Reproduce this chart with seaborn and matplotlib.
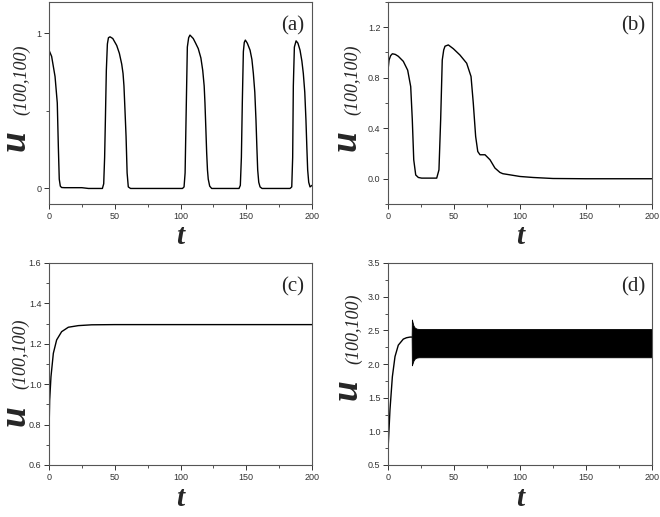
import matplotlib
matplotlib.use("Agg")
import matplotlib.pyplot as plt
from matplotlib.ticker import MultipleLocator, FormatStrFormatter
import seaborn as sns
import pandas as pd

# panel (a): periodic pulses
a_t = [0, 2, 4.6, 6.3, 7.1, 7.8, 8.6, 9.6, 12, 25, 30, 40.6, 41.6, 42.3, 42.9, 43.6, 44.4, 45.2, 46.4,
       48.5, 51.5, 53.5, 55.3, 56.3, 57.0, 57.8, 58.6, 59.4, 60.3, 62, 80, 101.5, 102.7, 103.5, 104.2,
       105.2, 106.2, 107.2, 109.7, 111.5, 113.5, 115.5, 116.9, 118.0, 118.6, 119.3, 119.9, 120.5,
       121.1, 122.2, 123.7, 126, 144.5, 145.5, 146.3, 147.0, 147.8, 148.5, 149.3, 150.8, 152.9, 154.3,
       155.4, 156.5, 157.4, 158.1, 158.7, 159.5, 160.5, 162, 183.3, 184.6, 185.3, 185.8, 186.6, 187.9,
       189.3, 190.9, 192.3, 193.4, 194.5, 195.4, 196.1, 196.7, 197.5, 198.5, 200]
a_u = [0.89, 0.85, 0.72, 0.55, 0.27, 0.06, 0.015, 0.006, 0.005, 0.005, 0.0, 0.0, 0.03, 0.2, 0.45,
       0.76, 0.93, 0.97, 0.976, 0.965, 0.92, 0.87, 0.80, 0.74, 0.66, 0.50, 0.335, 0.10, 0.01, 0.0,
       0.0, 0.0, 0.01, 0.1, 0.44, 0.91, 0.97, 0.987, 0.965, 0.935, 0.90, 0.84, 0.76, 0.66, 0.55, 0.38,
       0.23, 0.12, 0.06, 0.015, 0.0, 0.0, 0.0, 0.02, 0.2, 0.55, 0.88, 0.94, 0.955, 0.935, 0.89, 0.83,
       0.74, 0.62, 0.44, 0.26, 0.12, 0.04, 0.01, 0.0, 0.0, 0.01, 0.2, 0.66, 0.91, 0.95, 0.935, 0.89,
       0.82, 0.74, 0.62, 0.44, 0.26, 0.12, 0.04, 0.01, 0.02]

# panel (b): two pulses then decay
b_t = [0, 0.8, 2, 3.3, 5.5, 7.8, 11.6, 14.9, 17.2, 18.4, 19.5, 21, 23, 25.5, 36.9, 38.6, 39.9, 41.1,
       42.2, 43.2, 45.7, 49.5, 54.5, 59.6, 62.9, 64.6, 66.4, 68, 69.7, 73.5, 77.3, 81, 84.8, 87, 90,
       100, 110, 125, 150, 200]
b_u = [0.86, 0.94, 0.975, 0.99, 0.985, 0.97, 0.93, 0.86, 0.73, 0.47, 0.15, 0.03, 0.01, 0.005, 0.005,
       0.07, 0.47, 0.94, 1.02, 1.05, 1.06, 1.03, 0.98, 0.915, 0.81, 0.60, 0.335, 0.216, 0.19, 0.19,
       0.15, 0.085, 0.05, 0.04, 0.035, 0.018, 0.01, 0.002, 0.0, 0.0]

# panel (c): relaxation to a steady state
c_t = [0, 0.5, 1.5, 3.3, 5.8, 9.6, 14.7, 22.3, 32.4, 50, 200]
c_u = [0.757, 0.92, 1.037, 1.153, 1.219, 1.26, 1.282, 1.29, 1.294, 1.295, 1.295]

# panel (d): rise then fast oscillation (drawn as envelope band)
d_t = [0, 1.5, 3.3, 5.3, 7.8, 11.6, 14, 16.7, 17.9]
d_u = [0.72, 1.32, 1.81, 2.11, 2.28, 2.37, 2.39, 2.40, 2.40]
band_t = [17.9, 18.1, 18.6, 19.3, 20.3, 21.7, 23.5, 200]
band_hi = [2.40, 2.66, 2.62, 2.57, 2.54, 2.525, 2.52, 2.52]
band_lo = [2.40, 1.98, 2.01, 2.05, 2.08, 2.095, 2.10, 2.10]

panel_tags = ["(a)", "(b)", "(c)", "(d)"]
y_limits = [(-0.1, 1.2), (-0.2, 1.4), (0.6, 1.6), (0.5, 3.5)]
y_major = [1.0, 0.4, 0.2, 0.5]
y_minor = [0.5, 0.2, 0.1, 0.25]

sns.set_theme(style="ticks")
plt.rcParams["font.family"] = ["Liberation Sans", "DejaVu Sans"]

W, H = 660, 517
fig = plt.figure(figsize=(W / 100, H / 100), dpi=100)

# axes boxes in pixels: left, top, right, bottom
boxes = [(49, 2, 312, 204), (388, 2, 652, 204), (49, 263, 312, 465), (388, 263, 652, 465)]
axes = []
for (l, t, r, b) in boxes:
    axes.append(fig.add_axes([l / W, 1 - b / H, (r - l) / W, (b - t) / H]))

series = [(a_t, a_u), (b_t, b_u), (c_t, c_u), (d_t, d_u)]
for i, ax in enumerate(axes):
    x, y = series[i]
    df = pd.DataFrame({"t": x, "u": y})
    sns.lineplot(data=df, x="t", y="u", ax=ax, color="black", linewidth=1.0,
                 estimator=None, sort=False)
    if i == 3:
        ax.fill_between(band_t, band_lo, band_hi, color="black", linewidth=0.6)

    ax.set_xlim(0, 200)
    ax.set_ylim(*y_limits[i])
    ax.xaxis.set_major_locator(MultipleLocator(50))
    ax.xaxis.set_minor_locator(MultipleLocator(25))
    ax.yaxis.set_major_locator(MultipleLocator(y_major[i]))
    ax.yaxis.set_minor_locator(MultipleLocator(y_minor[i]))
    if i == 0:
        ax.set_yticks([0, 1])
        ax.set_yticklabels(["0", "1"])
    else:
        ax.yaxis.set_major_formatter(FormatStrFormatter("%.1f"))
    ax.set_xlabel("")
    ax.set_ylabel("")
    ax.tick_params(which="major", direction="out", length=3.5, width=0.7, labelsize=6.5,
                   colors="#333333", pad=2)
    ax.tick_params(which="minor", direction="out", length=2, width=0.6, colors="#333333")
    for side in ["top", "right", "left", "bottom"]:
        ax.spines[side].set_visible(True)
        ax.spines[side].set_color("#555555")
        ax.spines[side].set_linewidth(0.8)
    ax.text(0.928, 0.88, panel_tags[i], transform=ax.transAxes, ha="center", va="center",
            fontsize=15, family="Liberation Serif")


def fig_text(px, py, s, **kw):
    return fig.text(px / W, 1 - py / H, s, **kw)


# x labels
for (px, py) in [(180.5, 237), (520, 237), (180.5, 498), (520, 498)]:
    fig_text(px, py, "t", ha="center", va="center", fontsize=21, family="Liberation Serif",
             style="italic", weight="bold")

# y labels: big u with italic subscript, anchored at the baseline start (text runs upward)
u_pos = [(25, 151), (356, 151), (25, 426), (357, 400)]
sub_pos = [(26.5, 115), (357.5, 115), (25.5, 389), (358.5, 364)]
for (ux, uy), (sx, sy) in zip(u_pos, sub_pos):
    fig_text(ux, uy, "u", ha="left", va="baseline", rotation=90, rotation_mode="anchor",
             fontsize=27, family="Liberation Serif", style="italic", weight="bold")
    fig_text(sx, sy, "(100,100)", ha="left", va="baseline", rotation=90,
             rotation_mode="anchor", fontsize=13, family="Liberation Serif", style="italic")

fig.savefig("out.png", dpi=100)
